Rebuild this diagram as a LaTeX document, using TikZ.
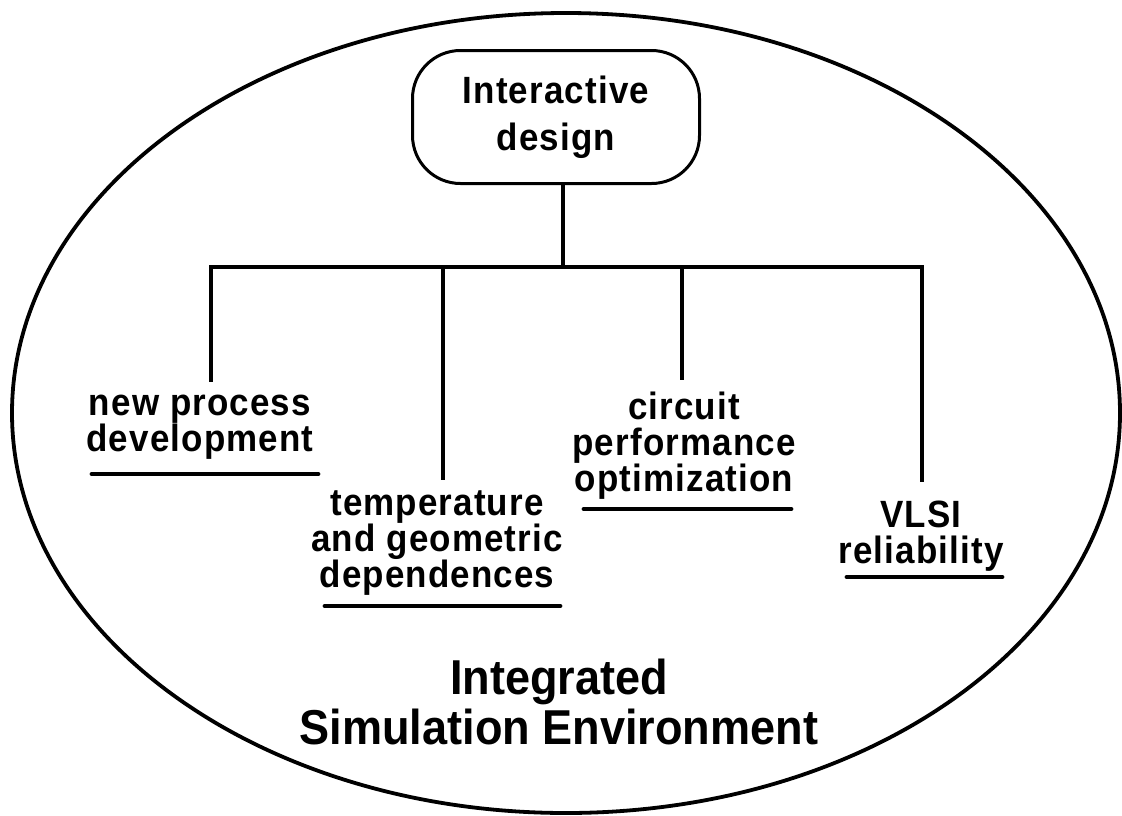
\documentclass[tikz,border=0pt]{standalone}
\usepackage{fontspec}
\setmainfont{Liberation Sans}
\newfontfamily\topicfont{Liberation Sans}[FakeStretch=0.92,LetterSpace=3]
\newfontfamily\titlefont{Liberation Sans}[FakeStretch=0.92]
\begin{document}
\begin{tikzpicture}[x=1pt,y=-1pt,
  rim/.style={draw=black,line width=3.8pt},
  topbox/.style={draw=black,line width=3pt,rounded corners=48pt,
    minimum width=287pt,minimum height=133pt,inner sep=0pt,align=center,
    font=\topicfont\fontsize{38}{47}\selectfont\bfseries},
  topic/.style={inner sep=0pt,align=center,
    font=\topicfont\fontsize{38}{36}\selectfont\bfseries},
  titletext/.style={inner sep=0pt,align=center,
    font=\titlefont\fontsize{49}{50}\selectfont\bfseries},
  wire/.style={draw=black,line width=3.6pt},
  bar/.style={draw=black,line width=4.6pt,line cap=rect},
  uline/.style={draw=black,line width=4.8pt,line cap=round}]
\useasboundingbox (0,0) rectangle (1122,815);

% outer environment
\draw[rim] (566,413) ellipse [x radius=554, y radius=400];

% nodes
\node[topbox] (top) at (556,117) {Interactive\\design};
\node[topic] (np) at (200,427) {new process\\development};
\node[topic] (tg) at (437,543) {temperature\\and geometric\\dependences};
\node[topic] (cp) at (684,446) {circuit\\performance\\optimization};
\node[topic] (vr) at (921,536) {VLSI\\reliability};
\node[titletext] (ise) at (559,702) {Integrated\\Simulation Environment};

% tree junctions
\coordinate (hub) at (563,267);
\coordinate (j1) at (211,267);
\coordinate (j2) at (443,267);
\coordinate (j3) at (682,267);
\coordinate (j4) at (922,267);
\coordinate (e1) at (211,382);
\coordinate (e2) at (443,480);
\coordinate (e3) at (682,380);
\coordinate (e4) at (922,482);

% connectors
\draw[wire] (hub |- top.south) -- (hub);
\draw[bar] (j1) -- (j4);
\draw[wire] (j1) -- (e1);
\draw[wire] (j2) -- (e2);
\draw[wire] (j3) -- (e3);
\draw[wire] (j4) -- (e4);

% underlines
\draw[uline] (92,474) -- (318,474);
\draw[uline] (325,606) -- (560,606);
\draw[uline] (584,509) -- (791,509);
\draw[uline] (847,577) -- (1002,577);
\end{tikzpicture}
\end{document}
